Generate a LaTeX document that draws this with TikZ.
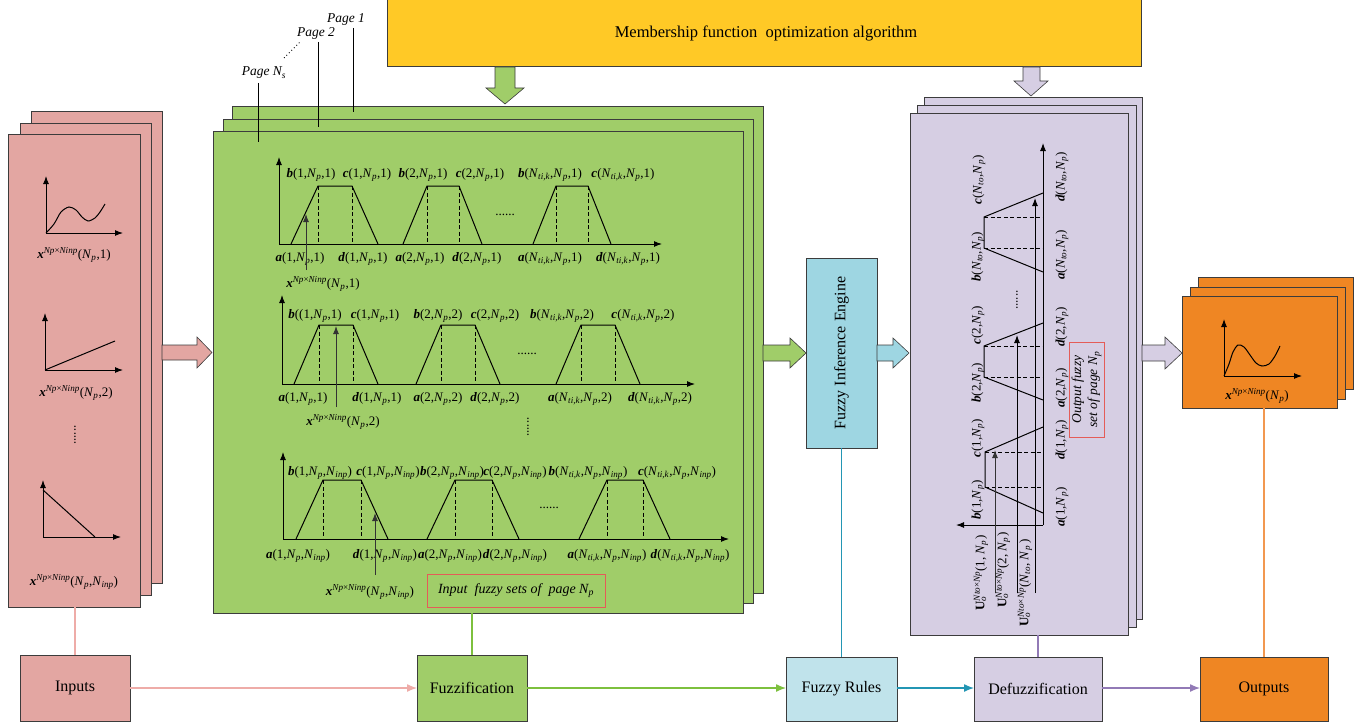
\documentclass[tikz,border=0pt]{standalone}
\usepackage{fontspec}
\setmainfont{Liberation Serif}
\usetikzlibrary{arrows.meta}
\definecolor{pinkF}{RGB}{227,166,162}
\definecolor{pinkL}{RGB}{238,172,168}
\definecolor{greenF}{RGB}{160,205,105}
\definecolor{greenL}{RGB}{125,192,62}
\definecolor{blueF}{RGB}{158,214,226}
\definecolor{blueF2}{RGB}{192,227,235}
\definecolor{tealL}{RGB}{35,150,180}
\definecolor{purpF}{RGB}{214,206,227}
\definecolor{purpL}{RGB}{146,122,182}
\definecolor{orangeF}{RGB}{239,134,35}
\definecolor{orangeL}{RGB}{242,152,80}
\definecolor{yellowF}{RGB}{255,201,38}
\definecolor{redB}{RGB}{228,92,88}
\definecolor{edge}{RGB}{60,60,60}
\newcommand{\bi}[1]{\textbf{\textit{#1}}}
\newcommand{\Np}{\textit{N}\textsubscript{\textit{p}}}
\newcommand{\Ninp}{\textit{N}\textsubscript{\textit{inp}}}
\newcommand{\Ntik}{\textit{N}\textsubscript{\textit{ti,k}}}
\newcommand{\Nto}{\textit{N}\textsubscript{\textit{to}}}
\newcommand{\xsup}{\bi{x}\textsuperscript{\textit{Np}×\textit{Ninp}}}
\newcommand{\Uo}{\textbf{U}\rlap{\textsubscript{\textit{o}}}\textsuperscript{\textit{Nto}×\textit{Np}}}
\newcommand{\trapz}[6]{%
  \draw[trapl] (#1,#6) -- (#2,#5) -- (#3,#5) -- (#4,#6);
  \draw[trapl,dash pattern=on 4pt off 2.5pt] (#2,#5) -- (#2,#6) (#3,#5) -- (#3,#6);}
\newcommand{\vtrapz}[6]{%
  \draw[trapl] (#6,#1) -- (#5,#2) -- (#5,#3) -- (#6,#4);
  \draw[trapl,dash pattern=on 4pt off 2.5pt] (#5,#2) -- (#6,#2) (#5,#3) -- (#6,#3);}
\begin{document}
\begin{tikzpicture}[x=1pt,y=-1pt,
  panel/.style={draw=edge,line width=0.8pt,inner sep=0pt,outer sep=0pt,anchor=north west},
  ax/.style={line width=1pt,-{Latex[length=8pt,width=6pt]}},
  trapl/.style={line width=1pt},
  lbl/.style={font=\fontsize{13}{15}\selectfont,inner sep=0pt},
  ital/.style={font=\fontsize{13.5}{16}\selectfont\itshape,inner sep=0pt},
  big/.style={font=\fontsize{16}{19}\selectfont},
  flowbox/.style={draw=edge,line width=0.8pt,inner sep=0pt,outer sep=0pt,anchor=north west,font=\fontsize{16}{19}\selectfont},
  flow/.style={line width=1.3pt,-{Latex[length=10pt,width=8pt]}},
  vlink/.style={line width=1.2pt},
  blockarrow/.style={draw=edge,line width=0.6pt}
]
\useasboundingbox (0,0) rectangle (1371,725);

% ---------- yellow bar
\node[panel,fill=yellowF,minimum width=754pt,minimum height=68pt] (opt) at (387,-2) {};
\node[font=\fontsize{16.5}{19}\selectfont] (optt) at (766,33) {Membership function~ optimization algorithm};

% block arrows down
\draw[blockarrow,fill=greenF] (495,67) -- (515,67) -- (515,88) -- (524,88) -- (505,104) -- (486,88) -- (495,88) -- cycle;
\draw[blockarrow,fill=purpF] (1023,67) -- (1040,67) -- (1040,81) -- (1048,81) -- (1031,96) -- (1014,81) -- (1023,81) -- cycle;

% ---------- pink stack
\node[panel,fill=pinkF,minimum width=131pt,minimum height=472pt] (pinkb) at (31,111) {};
\node[panel,fill=pinkF,minimum width=131pt,minimum height=472pt] (pinkm) at (20,123) {};
\node[panel,fill=pinkF,minimum width=132pt,minimum height=473pt] (pinkf) at (8,134) {};
% pink plots
\draw[ax] (46,233) -- (46,176);
\draw[ax] (46,233) -- (123,233);
\draw[line width=1pt] plot[smooth] coordinates {(46,233) (54,224) (61,212) (69,207) (76,210) (82,217) (88,221) (95,218) (100,212) (105,204)};
\node[lbl] (px1) at (74,255) {\xsup(\Np,1)};
\draw[ax] (45,370) -- (45,313);
\draw[ax] (45,370) -- (123,370);
\draw[line width=1pt] (45,370) -- (115,341);
\node[lbl] (px2) at (76,393) {\xsup(\Np,2)};
\node[lbl,rotate=90] (pdots) at (75,435) {......};
\draw[ax] (43,537) -- (43,480);
\draw[ax] (43,537) -- (121,537);
\draw[line width=1pt] (43,490) -- (95,537);
\node[lbl] (px3) at (74,582) {\xsup(\Np,\Ninp)};
% pink block arrow
\draw[blockarrow,fill=pinkF] (162,345) -- (197,345) -- (197,337) -- (212,352.5) -- (197,368) -- (197,360) -- (162,360) -- cycle;

% ---------- green stack
\node[panel,fill=greenF,minimum width=531pt,minimum height=487pt] (greenb) at (232,106) {};
\node[panel,fill=greenF,minimum width=530pt,minimum height=484pt] (greenm) at (223,119) {};
\node[panel,fill=greenF,minimum width=530pt,minimum height=482pt] (greenf) at (213,131) {};
% page labels
\node[ital] (pg1) at (346,19) {Page 1};
\node[ital] (pg2) at (316,33) {Page 2};
\node[ital] (pgn) at (264,73) {Page \textit{N}\textsubscript{\textit{s}}};
\coordinate (pg1e) at (353,112);
\coordinate (pg2e) at (318,127);
\coordinate (pgne) at (258,142);
\draw[line width=0.8pt] (353,28) -- (pg1e);
\draw[line width=0.8pt] (318,42) -- (pg2e);
\draw[line width=0.8pt] (258,83) -- (pgne);
\draw[line width=0.8pt,dash pattern=on 0.9pt off 2.6pt] (284,58) -- (301,41);

% row 1
\draw[ax] (279,244) -- (279,157);
\draw[ax] (279,244) -- (662,244);
\trapz{291}{318}{352}{378}{186}{244}
\trapz{403}{427}{459}{482}{186}{244}
\trapz{533}{556}{588}{611}{186}{244}
\node[lbl] at (505,215) {......};
\node[lbl] at (311,175) {\bi{b}(1,\Np,1)};
\node[lbl] at (367,175) {\bi{c}(1,\Np,1)};
\node[lbl] at (423,175) {\bi{b}(2,\Np,1)};
\node[lbl] at (480,175) {\bi{c}(2,\Np,1)};
\node[lbl] at (550,175) {\bi{b}(\Ntik,\Np,1)};
\node[lbl] at (623,175) {\bi{c}(\Ntik,\Np,1)};
\node[lbl] at (300,259) {\bi{a}(1,\Np,1)};
\node[lbl] at (363,259) {\bi{d}(1,\Np,1)};
\node[lbl] at (420,259) {\bi{a}(2,\Np,1)};
\node[lbl] at (477,259) {\bi{d}(2,\Np,1)};
\node[lbl] at (550,259) {\bi{a}(\Ntik,\Np,1)};
\node[lbl] at (628,259) {\bi{d}(\Ntik,\Np,1)};
\node[lbl] (gx1) at (323,284) {\xsup(\Np,1)};
\draw[ax,draw=black!80] (306,270) -- (306,214);

% row 2
\draw[ax] (282,384) -- (282,295);
\draw[ax] (282,384) -- (695,384);
\trapz{294}{319}{353}{378}{325}{384}
\trapz{416}{441}{475}{500}{325}{384}
\trapz{556}{581}{615}{640}{325}{384}
\node[lbl] at (527,354) {......};
\node[lbl] at (315,316) {\bi{b}((1,\Np,1)};
\node[lbl] at (375,316) {\bi{c}(1,\Np,1)};
\node[lbl] at (438,316) {\bi{b}(2,\Np,2)};
\node[lbl] at (495,316) {\bi{c}(2,\Np,2)};
\node[lbl] at (562,316) {\bi{b}(\Ntik,\Np,2)};
\node[lbl] at (643,316) {\bi{c}(\Ntik,\Np,2)};
\node[lbl] at (303,399) {\bi{a}(1,\Np,1)};
\node[lbl] at (377,399) {\bi{d}(1,\Np,1)};
\node[lbl] at (438,399) {\bi{a}(2,\Np,2)};
\node[lbl] at (495,399) {\bi{d}(2,\Np,2)};
\node[lbl] at (580,399) {\bi{a}(\Ntik,\Np,2)};
\node[lbl] at (660,399) {\bi{d}(\Ntik,\Np,2)};
\node[lbl] (gx2) at (343,422) {\xsup(\Np,2)};
\draw[ax,draw=black!80] (336,407) -- (336,326);
\node[lbl,rotate=90] at (528,427) {......};

% row 3
\draw[ax] (283,539) -- (283,452);
\draw[ax] (283,539) -- (729,539);
\trapz{296}{323}{361}{388}{480}{539}
\trapz{427}{455}{492}{519}{480}{539}
\trapz{579}{607}{643}{670}{480}{539}
\node[lbl] at (549,508) {......};
\node[lbl] at (320,473) {\bi{b}(1,\Np,\Ninp)};
\node[lbl] at (388,473) {\bi{c}(1,\Np,\Ninp)};
\node[lbl] at (452,473) {\bi{b}(2,\Np,\Ninp)};
\node[lbl] at (515,473) {\bi{c}(2,\Np,\Ninp)};
\node[lbl] at (588,473) {\bi{b}(\Ntik,\Np,\Ninp)};
\node[lbl] at (677,473) {\bi{c}(\Ntik,\Np,\Ninp)};
\node[lbl] at (298,556) {\bi{a}(1,\Np,\Ninp)};
\node[lbl] at (385,556) {\bi{d}(1,\Np,\Ninp)};
\node[lbl] at (450,556) {\bi{a}(2,\Np,\Ninp)};
\node[lbl] at (515,556) {\bi{d}(2,\Np,\Ninp)};
\node[lbl] at (607,556) {\bi{a}(\Ntik,\Np,\Ninp)};
\node[lbl] at (690,556) {\bi{d}(\Ntik,\Np,\Ninp)};
\node[lbl] (gx3) at (370,592) {\xsup(\Np,\Ninp)};
\draw[ax,draw=black!80] (375,575) -- (375,513);
\node[draw=redB,line width=0.8pt,minimum width=178pt,minimum height=33pt,inner sep=0pt,font=\fontsize{14}{16}\selectfont\itshape] (inbox) at (516,590.5) {Input~ fuzzy sets of~ page \textit{N}\textsubscript{\textit{p}}};

% green block arrow
\draw[blockarrow,fill=greenF] (763,345) -- (790,345) -- (790,338) -- (806,353) -- (790,368) -- (790,361) -- (763,361) -- cycle;

% ---------- Fuzzy inference engine
\node[panel,fill=blueF,minimum width=71pt,minimum height=190pt] (fie) at (806,258) {};
\node[big,rotate=90] (fiet) at (841.5,353) {Fuzzy Inference Engine};
\draw[blockarrow,fill=blueF] (877,345) -- (893,345) -- (893,338) -- (909,353) -- (893,368) -- (893,361) -- (877,361) -- cycle;

% ---------- purple stack
\node[panel,fill=purpF,minimum width=218pt,minimum height=522pt] (purpb) at (924,97) {};
\node[panel,fill=purpF,minimum width=219pt,minimum height=522pt] (purpm) at (917,105) {};
\node[panel,fill=purpF,minimum width=218pt,minimum height=522pt] (purpf) at (910,113) {};
\draw[ax] (1043,525) -- (1043,143);
\draw[ax] (1043,525) -- (956,525);
\vtrapz{513}{487}{452}{427}{985}{1043}
\vtrapz{400}{377}{346}{323}{984}{1043}
\vtrapz{272}{248}{217}{193}{984}{1043}
\draw[ax,draw=black!80] (995,593) -- (995,450);
\draw[ax] (1017,593) -- (1017,335);
\draw[ax] (1035,593) -- (1035,198);
\node[lbl,rotate=90] at (1017,300) {......};
\node[lbl,rotate=90] at (1062,507) {\bi{a}(1,\Np)};
\node[lbl,rotate=90] at (1062,440) {\bi{d}(1,\Np)};
\node[lbl,rotate=90] at (1062,388) {\bi{a}(2,\Np)};
\node[lbl,rotate=90] at (1062,327) {\bi{d}(2,\Np)};
\node[lbl,rotate=90] at (1062,255) {\bi{a}(\Nto,\Np)};
\node[lbl,rotate=90] at (1062,177) {\bi{d}(\Nto,\Np)};
\node[lbl,rotate=90] at (978,500) {\bi{b}(1,\Np)};
\node[lbl,rotate=90] at (978,438) {\bi{c}(1,\Np)};
\node[lbl,rotate=90] at (978,383) {\bi{b}(2,\Np)};
\node[lbl,rotate=90] at (978,325) {\bi{c}(2,\Np)};
\node[lbl,rotate=90] at (978,257) {\bi{b}(\Nto,\Np)};
\node[lbl,rotate=90] at (979,180) {\bi{c}(\Nto,\Np)};
\node[lbl,rotate=90] at (981,573) {\Uo(1, \Np)};
\node[lbl,rotate=90] at (1003,570) {\Uo(2, \Np)};
\node[lbl,rotate=90] at (1025,583) {\Uo(\Nto, \Np\,)};
\node[draw=redB,line width=0.8pt,rotate=90,minimum width=95pt,minimum height=35pt,inner sep=0pt,align=center,font=\fontsize{13.5}{16}\selectfont\itshape] (outbox) at (1086.5,389.5) {Output fuzzy\\set of page \textit{N}\textsubscript{\textit{p}}};
\draw[blockarrow,fill=purpF] (1142,345) -- (1165,345) -- (1165,337) -- (1182,353) -- (1165,369) -- (1165,361) -- (1142,361) -- cycle;

% ---------- orange stack
\node[panel,fill=orangeF,minimum width=155pt,minimum height=112pt] (orab) at (1198,277) {};
\node[panel,fill=orangeF,minimum width=155pt,minimum height=112pt] (oram) at (1190,287) {};
\node[panel,fill=orangeF,minimum width=155pt,minimum height=112pt] (oraf) at (1182,296) {};
\draw[ax] (1224,376) -- (1224,319);
\draw[ax] (1224,376) -- (1302,376);
\draw[line width=1pt] plot[smooth] coordinates {(1224,376) (1229,364) (1233,352) (1238,345) (1244,347) (1250,355) (1256,363) (1262,366) (1269,364) (1275,356) (1280,346)};
\node[lbl] (ox) at (1257,396) {\xsup(\Np)};

% ---------- bottom flow
\node[flowbox,fill=pinkF,minimum width=110pt,minimum height=66pt] (inputs) at (20,655) {};
\node[big] at (inputs.center) {Inputs};
\node[flowbox,fill=greenF,minimum width=110pt,minimum height=66pt] (fuzz) at (417,655) {};
\node[big] at (fuzz.center) {Fuzzification};
\node[flowbox,fill=blueF2,minimum width=111pt,minimum height=64pt] (rules) at (786,657) {};
\node[big] at (rules.center) {Fuzzy Rules};
\node[flowbox,fill=purpF,minimum width=128pt,minimum height=64pt] (defuzz) at (974,657) {};
\node[big] at (defuzz.center) {Defuzzification};
\node[flowbox,fill=orangeF,minimum width=128pt,minimum height=64pt] (outputs) at (1200,657) {};
\node[big] at (outputs.center) {Outputs};

\draw[flow,pinkL] (inputs.east |- 0,688) -- (fuzz.west |- 0,688);
\draw[flow,greenL] (fuzz.east |- 0,688) -- (rules.west |- 0,688);
\draw[flow,tealL] (rules.east |- 0,688) -- (defuzz.west |- 0,688);
\draw[flow,purpL] (defuzz.east |- 0,688) -- (outputs.west |- 0,688);

\draw[vlink,pinkL] (inputs.north) -- (inputs.north |- pinkf.south);
\draw[vlink,greenL] (fuzz.north) -- (fuzz.north |- greenf.south);
\draw[vlink,tealL] (rules.north) -- (rules.north |- fie.south);
\draw[vlink,purpL] (defuzz.north) -- (defuzz.north |- purpf.south);
\draw[vlink,orangeL] (outputs.north) -- (outputs.north |- oraf.south);
\end{tikzpicture}
\end{document}
